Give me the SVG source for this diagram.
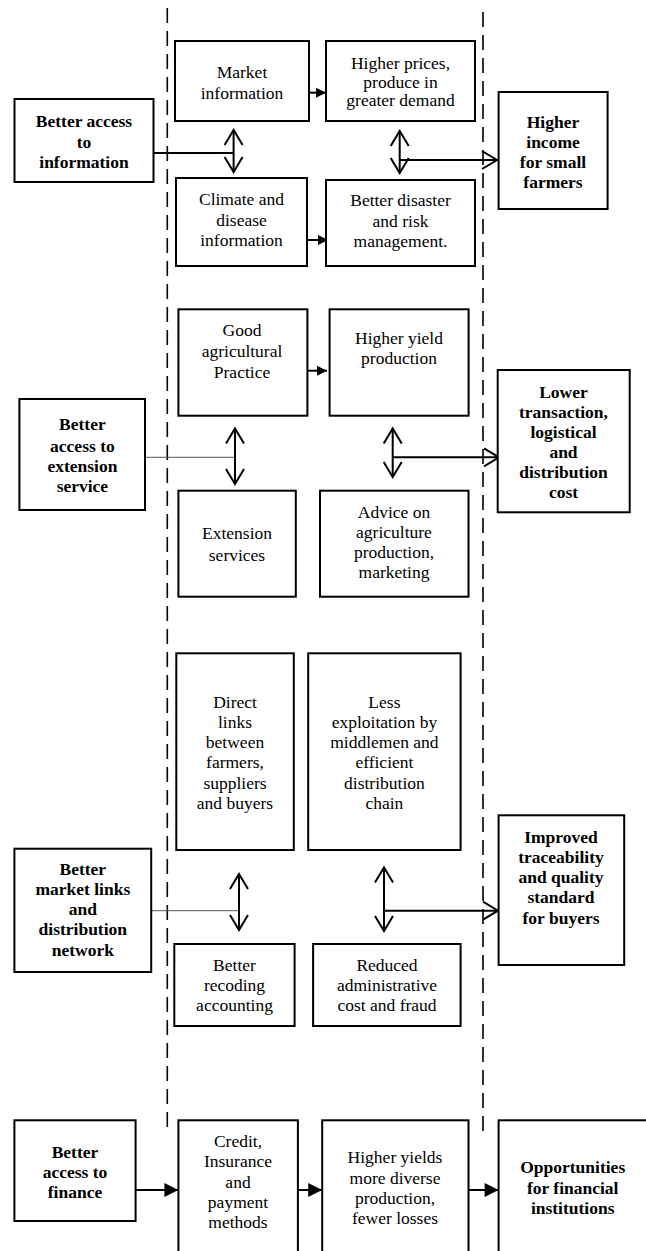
<svg xmlns="http://www.w3.org/2000/svg" width="646" height="1251" viewBox="0 0 646 1251">
<style>
.b{fill:#fff;stroke:#000;stroke-width:2}
text{font-family:"Liberation Serif","Times New Roman",serif;font-size:17.5px;fill:#000;text-anchor:middle}
.bd{font-weight:bold}
.ln{stroke:#000;stroke-width:2;fill:none}
.th{stroke:#555;stroke-width:1;fill:none}
.ds{stroke:#000;stroke-width:1.6;fill:none;stroke-dasharray:15 8}
</style>
<defs>
<marker id="ov" markerUnits="userSpaceOnUse" markerWidth="20" markerHeight="22" refX="16" refY="10" orient="auto-start-reverse" overflow="visible">
<path d="M1,1 L16,10 L1,19" fill="none" stroke="#000" stroke-width="2"/>
</marker>
<marker id="fs" markerUnits="userSpaceOnUse" markerWidth="12" markerHeight="12" refX="10" refY="5" orient="auto" overflow="visible">
<path d="M0,0 L10,5 L0,10 Z" fill="#000"/>
</marker>
<marker id="fl" markerUnits="userSpaceOnUse" markerWidth="16" markerHeight="16" refX="14" refY="7" orient="auto" overflow="visible">
<path d="M0,0 L14,7 L0,14 Z" fill="#000"/>
</marker>
</defs>
<rect width="646" height="1251" fill="#fff"/>
<g id="connectors">
<line class="ds" x1="167.3" y1="8" x2="167.3" y2="1135"/>
<line class="ds" x1="483" y1="12" x2="483" y2="1135"/>
<line class="ln" x1="309" y1="92.7" x2="326" y2="92.7" marker-end="url(#fs)"/>
<line class="ln" x1="307" y1="240" x2="328" y2="240" marker-end="url(#fs)"/>
<line class="ln" x1="307.4" y1="370.7" x2="327" y2="370.7" marker-end="url(#fs)"/>
<line class="ln" x1="233.6" y1="130" x2="233.6" y2="172" marker-start="url(#ov)" marker-end="url(#ov)"/>
<line class="ln" x1="154" y1="153" x2="233.6" y2="153"/>
<line class="ln" x1="399.7" y1="131" x2="399.7" y2="173" marker-start="url(#ov)" marker-end="url(#ov)"/>
<line class="ln" x1="399.7" y1="160" x2="497" y2="160" marker-end="url(#ov)"/>
<line class="th" x1="145" y1="457.3" x2="235" y2="457.3"/>
<line class="ln" x1="235" y1="428.5" x2="235" y2="484" marker-start="url(#ov)" marker-end="url(#ov)"/>
<line class="ln" x1="392.7" y1="428.5" x2="392.7" y2="477" marker-start="url(#ov)" marker-end="url(#ov)"/>
<line class="ln" x1="392.7" y1="457.3" x2="499" y2="457.3" marker-end="url(#ov)"/>
<line class="th" x1="151" y1="910.7" x2="239" y2="910.7"/>
<line class="ln" x1="239" y1="874" x2="239" y2="930" marker-start="url(#ov)" marker-end="url(#ov)"/>
<line class="ln" x1="384" y1="867.5" x2="384" y2="931" marker-start="url(#ov)" marker-end="url(#ov)"/>
<line class="ln" x1="384" y1="910.7" x2="498" y2="910.7" marker-end="url(#ov)"/>
<line class="ln" x1="135.6" y1="1190" x2="178.4" y2="1190" marker-end="url(#fl)"/>
<line class="ln" x1="297.9" y1="1190" x2="322.2" y2="1190" marker-end="url(#fl)"/>
<line class="ln" x1="468.5" y1="1190" x2="498.6" y2="1190" marker-end="url(#fl)"/>
</g>
<g id="n-info"><rect class="b" x="14.5" y="99" width="139" height="83"/>
<text class="bd" x="84"><tspan x="84" y="126.5">Better access</tspan><tspan x="84" y="147.5">to</tspan><tspan x="84" y="167.5">information</tspan></text></g>
<g id="n-market"><rect class="b" x="175" y="41" width="134" height="80"/>
<text x="242"><tspan x="242" y="78">Market</tspan><tspan x="242" y="99">information</tspan></text></g>
<g id="n-prices"><rect class="b" x="326" y="41" width="149" height="80"/>
<text x="400.5"><tspan x="400.5" y="68.5">Higher prices,</tspan><tspan x="400.5" y="87.5">produce in</tspan><tspan x="400.5" y="106">greater demand</tspan></text></g>
<g id="n-climate"><rect class="b" x="176" y="178" width="131" height="88"/>
<text x="241.5"><tspan x="241.5" y="205">Climate and</tspan><tspan x="241.5" y="226">disease</tspan><tspan x="241.5" y="246">information</tspan></text></g>
<g id="n-disaster"><rect class="b" x="326" y="180" width="149" height="86"/>
<text x="400.5"><tspan x="400.5" y="206">Better disaster</tspan><tspan x="400.5" y="226.5">and risk</tspan><tspan x="400.5" y="247">management.</tspan></text></g>
<g id="n-income"><rect class="b" x="498.6" y="92" width="109" height="117"/>
<text class="bd" x="553"><tspan x="553" y="127.5">Higher</tspan><tspan x="553" y="148">income</tspan><tspan x="553" y="168">for small</tspan><tspan x="553" y="188">farmers</tspan></text></g>
<g id="n-good"><rect class="b" x="178.4" y="309.3" width="129" height="106.4"/>
<text x="242"><tspan x="242" y="336">Good</tspan><tspan x="242" y="356.5">agricultural</tspan><tspan x="242" y="377.5">Practice</tspan></text></g>
<g id="n-yield"><rect class="b" x="329.6" y="309.3" width="139" height="106.4"/>
<text x="399"><tspan x="399" y="344">Higher yield</tspan><tspan x="399" y="364">production</tspan></text></g>
<g id="n-extaccess"><rect class="b" x="19.4" y="399" width="125.6" height="111"/>
<text class="bd" x="82.4"><tspan x="82.4" y="430">Better</tspan><tspan x="82.4" y="451.5">access to</tspan><tspan x="82.4" y="471.5">extension</tspan><tspan x="82.4" y="491.5">service</tspan></text></g>
<g id="n-lower"><rect class="b" x="497.7" y="370" width="132" height="142.3"/>
<text class="bd" x="563.5"><tspan x="563.5" y="397.5">Lower</tspan><tspan x="563.5" y="417.5">transaction,</tspan><tspan x="563.5" y="437.5">logistical</tspan><tspan x="563.5" y="457.5">and</tspan><tspan x="563.5" y="477.5">distribution</tspan><tspan x="563.5" y="498">cost</tspan></text></g>
<g id="n-extservices"><rect class="b" x="178.4" y="490.7" width="117.4" height="106"/>
<text x="237"><tspan x="237" y="539">Extension</tspan><tspan x="237" y="561">services</tspan></text></g>
<g id="n-advice"><rect class="b" x="320" y="490.7" width="148.5" height="106"/>
<text x="394"><tspan x="394" y="517.5">Advice on</tspan><tspan x="394" y="537.5">agriculture</tspan><tspan x="394" y="557.5">production,</tspan><tspan x="394" y="578">marketing</tspan></text></g>
<g id="n-direct"><rect class="b" x="176.3" y="653.3" width="117.5" height="196.7"/>
<text x="235"><tspan x="235" y="707.5">Direct</tspan><tspan x="235" y="727.5">links</tspan><tspan x="235" y="747.5">between</tspan><tspan x="235" y="768">farmers,</tspan><tspan x="235" y="788.5">suppliers</tspan><tspan x="235" y="808.5">and buyers</tspan></text></g>
<g id="n-less"><rect class="b" x="308.2" y="653.3" width="152.4" height="196.7"/>
<text x="384.4"><tspan x="384.4" y="707.5">Less</tspan><tspan x="384.4" y="727.5">exploitation by</tspan><tspan x="384.4" y="747.5">middlemen and</tspan><tspan x="384.4" y="768">efficient</tspan><tspan x="384.4" y="788.5">distribution</tspan><tspan x="384.4" y="808.5">chain</tspan></text></g>
<g id="n-improved"><rect class="b" x="498.6" y="815.3" width="125.6" height="149.7"/>
<text class="bd" x="561"><tspan x="561" y="842.5">Improved</tspan><tspan x="561" y="862.5">traceability</tspan><tspan x="561" y="882.5">and quality</tspan><tspan x="561" y="902.5">standard</tspan><tspan x="561" y="923.5">for buyers</tspan></text></g>
<g id="n-marketlinks"><rect class="b" x="14.4" y="848.7" width="136.8" height="123.3"/>
<text class="bd" x="82.8"><tspan x="82.8" y="875">Better</tspan><tspan x="82.8" y="895">market links</tspan><tspan x="82.8" y="915">and</tspan><tspan x="82.8" y="935">distribution</tspan><tspan x="82.8" y="956">network</tspan></text></g>
<g id="n-recoding"><rect class="b" x="174.3" y="944" width="120.3" height="82"/>
<text x="234.5"><tspan x="234.5" y="971">Better</tspan><tspan x="234.5" y="991">recoding</tspan><tspan x="234.5" y="1011">accounting</tspan></text></g>
<g id="n-reduced"><rect class="b" x="313.1" y="944" width="147.5" height="82"/>
<text x="387"><tspan x="387" y="971">Reduced</tspan><tspan x="387" y="991">administrative</tspan><tspan x="387" y="1011">cost and fraud</tspan></text></g>
<g id="n-finance"><rect class="b" x="14.4" y="1120.3" width="121.2" height="100.7"/>
<text class="bd" x="75"><tspan x="75" y="1157.5">Better</tspan><tspan x="75" y="1177.5">access to</tspan><tspan x="75" y="1197.5">finance</tspan></text></g>
<g id="n-credit"><rect class="b" x="178.4" y="1120.3" width="119.5" height="150"/>
<text x="238"><tspan x="238" y="1146.5">Credit,</tspan><tspan x="238" y="1166.5">Insurance</tspan><tspan x="238" y="1187.5">and</tspan><tspan x="238" y="1208">payment</tspan><tspan x="238" y="1227.5">methods</tspan></text></g>
<g id="n-yields"><rect class="b" x="322.2" y="1120.3" width="146.3" height="150"/>
<text x="395"><tspan x="395" y="1163">Higher yields</tspan><tspan x="395" y="1183.5">more diverse</tspan><tspan x="395" y="1204">production,</tspan><tspan x="395" y="1224">fewer losses</tspan></text></g>
<g id="n-opportunities"><rect class="b" x="498.6" y="1120.3" width="160" height="150"/>
<text class="bd" x="572.7"><tspan x="572.7" y="1173">Opportunities</tspan><tspan x="572.7" y="1194">for financial</tspan><tspan x="572.7" y="1214">institutions</tspan></text></g>
</svg>
